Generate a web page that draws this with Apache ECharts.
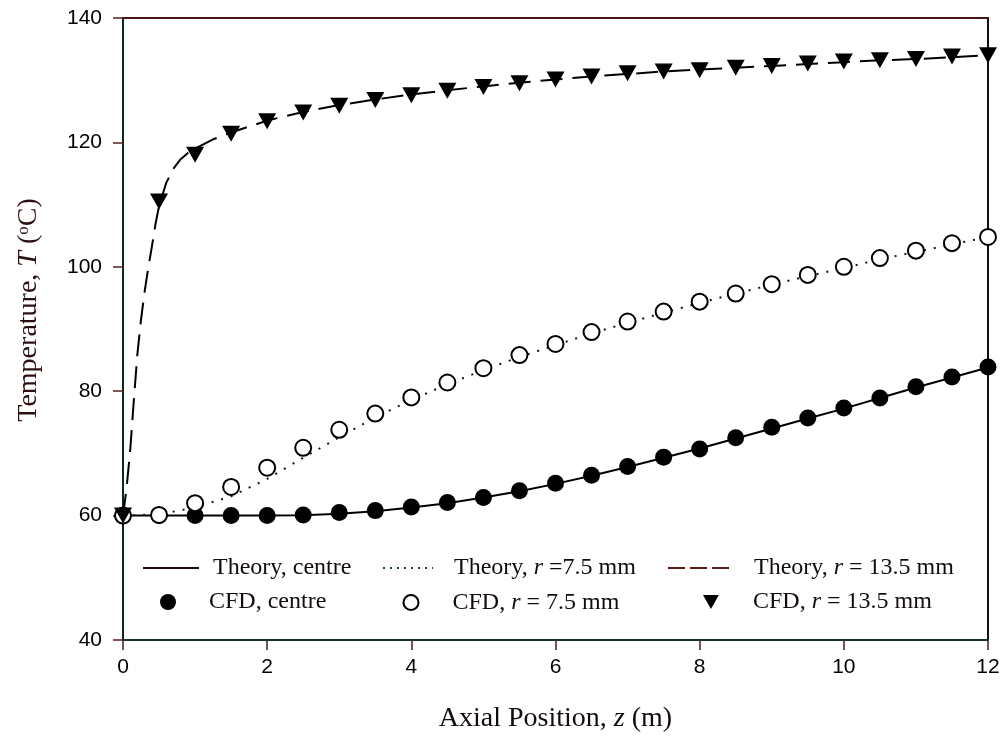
<!DOCTYPE html>
<html>
<head>
<meta charset="utf-8">
<script src="https://cdn.jsdelivr.net/npm/echarts@6/dist/echarts.min.js"></script>
<style>
html,body{margin:0;padding:0;background:#fff;}
#chart{width:1006px;height:744px;}
</style>
</head>
<body>
<div id="chart"></div>
<script>
// ---- data ----
const zCFD = [0, 0.5, 1, 1.5, 2, 2.5, 3, 3.5, 4, 4.5, 5, 5.5, 6, 6.5, 7, 7.5, 8, 8.5, 9, 9.5, 10, 10.5, 11, 11.5, 12];
const cfdCentre = [60.0, 60.0, 60.0, 60.0, 60.0, 60.1, 60.5, 60.8, 61.4, 62.1, 62.9, 64.0, 65.2, 66.5, 67.9, 69.4, 70.7, 72.5, 74.2, 75.7, 77.3, 78.9, 80.7, 82.3, 83.9];
const cfdR75 = [60.0, 60.1, 62.0, 64.6, 67.7, 70.9, 73.8, 76.4, 79.0, 81.4, 83.7, 85.8, 87.6, 89.5, 91.2, 92.8, 94.4, 95.7, 97.2, 98.7, 100.0, 101.4, 102.6, 103.8, 104.8];
const cfdR135 = [60.0, 110.5, 118.0, 121.4, 123.4, 124.8, 125.9, 126.8, 127.6, 128.3, 128.9, 129.5, 130.1, 130.6, 131.1, 131.4, 131.6, 132.0, 132.3, 132.7, 133.0, 133.2, 133.4, 133.8, 134.0];

const zTheory = [0, 0.5, 1, 1.5, 2, 2.5, 3, 3.5, 4, 4.5, 5, 5.5, 6, 6.5, 7, 7.5, 8, 8.5, 9, 9.5, 10, 10.5, 11, 11.5, 12];
const theoryCentre = [60.0, 60.0, 60.0, 60.0, 60.0, 60.05, 60.3, 60.7, 61.3, 62.0, 62.9, 63.9, 65.1, 66.4, 67.8, 69.3, 70.8, 72.4, 74.0, 75.6, 77.2, 78.9, 80.6, 82.2, 83.8];
const theoryR75 = [60.0, 60.2, 61.3, 63.1, 65.9, 69.3, 72.6, 75.8, 78.6, 81.1, 83.4, 85.5, 87.4, 89.3, 91.0, 92.6, 94.2, 95.7, 97.1, 98.5, 99.8, 101.2, 102.4, 103.6, 104.8];
const zTheory135 = [0, 0.05, 0.1, 0.15, 0.2, 0.25, 0.3, 0.35, 0.4, 0.45, 0.5, 0.6, 0.7, 0.8, 0.9, 1, 1.25, 1.5, 2, 2.5, 3, 3.5, 4, 4.5, 5, 5.5, 6, 6.5, 7, 7.5, 8, 8.5, 9, 9.5, 10, 10.5, 11, 11.5, 12];
const theoryR135 = [60.0, 64.5, 70.5, 78.5, 86.0, 91.5, 96.0, 99.8, 103.2, 106.8, 109.8, 113.5, 115.8, 117.3, 118.3, 119.0, 120.5, 121.6, 123.5, 124.9, 126.0, 126.9, 127.7, 128.4, 129.0, 129.6, 130.1, 130.6, 131.0, 131.4, 131.7, 132.0, 132.3, 132.6, 132.9, 133.2, 133.4, 133.7, 134.0];

const xTicks = [0, 2, 4, 6, 8, 10, 12];
const yTicks = [40, 60, 80, 100, 120, 140];

const seriesNames = ['Theory, centre', 'Theory, r =7.5 mm', 'Theory, r = 13.5 mm', 'CFD, centre', 'CFD, r = 7.5 mm', 'CFD, r = 13.5 mm'];
const legendRich = {
  'Theory, centre': '{n|Theory, centre}',
  'Theory, r =7.5 mm': '{n|Theory, }{i|r}{n| =7.5 mm}',
  'Theory, r = 13.5 mm': '{n|Theory, }{i|r}{n| = 13.5 mm}',
  'CFD, centre': '{n|CFD, centre}',
  'CFD, r = 7.5 mm': '{n|CFD, }{i|r}{n| = 7.5 mm}',
  'CFD, r = 13.5 mm': '{n|CFD, }{i|r}{n| = 13.5 mm}'
};

function pairs(xs, ys) { return xs.map((x, i) => [x, ys[i]]); }

const SERIF = '"Liberation Serif", "Times New Roman", serif';
const SANS = '"Liberation Sans", Arial, sans-serif';
const TRI = 'path://M0,0L20,0L10,17.6Z';

const chart = echarts.init(document.getElementById('chart'), null, {renderer: 'canvas'});

const richText = {
  n: {fontFamily: SERIF, fontSize: 24, color: '#140c0c'},
  i: {fontFamily: SERIF, fontSize: 24, fontStyle: 'italic', color: '#140c0c'}
};

function legendItem(name, left, top, w, h, pad, extra) {
  return Object.assign({
    data: [name],
    left: left, top: top,
    orient: 'horizontal',
    padding: 0,
    itemWidth: w, itemHeight: h,
    selectedMode: false,
    formatter: (nm) => legendRich[nm],
    textStyle: {fontFamily: SERIF, fontSize: 24, color: '#140c0c', padding: [0, 0, 0, pad], rich: richText}
  }, extra || {});
}

const hiddenSym = {opacity: 0, color: 'rgba(0,0,0,0)', borderWidth: 0};

const option = {
  animation: false,
  backgroundColor: '#ffffff',
  grid: {left: 123, right: 18, top: 18, bottom: 104, containLabel: false},
  xAxis: [{
    type: 'value', min: 0, max: 12, interval: 2,
    position: 'bottom',
    axisLine: {show: true, onZero: false, lineStyle: {color: '#183030', width: 2}},
    axisTick: {show: true, inside: false, length: 10, lineStyle: {color: '#3a2020', width: 1.5}},
    axisLabel: {margin: 17, fontFamily: SANS, fontSize: 21, color: '#000',
      formatter: (v) => xTicks.indexOf(v) >= 0 ? String(v) : ''},
    splitLine: {show: false},
    name: '{n|Axial Position, }{i|z}{n| (m)}',
    nameLocation: 'middle', nameGap: 65,
    nameTextStyle: {rich: {
      n: {fontFamily: SERIF, fontSize: 28, color: '#140c0c'},
      i: {fontFamily: SERIF, fontSize: 28, fontStyle: 'italic', color: '#140c0c'}
    }}
  }, {
    type: 'value', min: 0, max: 12, interval: 2, position: 'top',
    axisLine: {show: true, onZero: false, lineStyle: {color: '#4a1414', width: 2}},
    axisTick: {show: false}, axisLabel: {show: false}, splitLine: {show: false}
  }],
  yAxis: [{
    type: 'value', min: 40, max: 140, interval: 20,
    position: 'left',
    axisLine: {show: true, onZero: false, lineStyle: {color: '#0c2a1c', width: 2}},
    axisTick: {show: true, inside: false, length: 10, lineStyle: {color: '#5a2020', width: 1.5}},
    axisLabel: {margin: 21, fontFamily: SANS, fontSize: 21, color: '#000',
      formatter: (v) => yTicks.indexOf(v) >= 0 ? String(v) : ''},
    splitLine: {show: false},
    name: '{n|Temperature, }{i|T}{n| (}{s|o}{n|C)}',
    nameLocation: 'middle', nameGap: 80,
    nameTextStyle: {padding: [0, 0, 0, 38], rich: {
      n: {fontFamily: SERIF, fontSize: 28, color: '#2a1010'},
      i: {fontFamily: SERIF, fontSize: 28, fontStyle: 'italic', color: '#2a1010'},
      s: {fontFamily: SERIF, fontSize: 17, color: '#2a1010', verticalAlign: 'top', padding: [0, 0, 10, 0]}
    }}
  }, {
    type: 'value', min: 40, max: 140, interval: 20, position: 'right',
    axisLine: {show: true, onZero: false, lineStyle: {color: '#111', width: 2}},
    axisTick: {show: false}, axisLabel: {show: false}, splitLine: {show: false}
  }],
  legend: [
    legendItem(seriesNames[0], 142, 556, 56, 14, 9, {itemStyle: hiddenSym, lineStyle: {color: '#1a0808', width: 2}}),
    legendItem(seriesNames[1], 382, 556, 50, 14, 16, {itemStyle: hiddenSym, lineStyle: {color: '#1c4a28', type: [2, 5], width: 2}}),
    legendItem(seriesNames[2], 667, 556, 61, 14, 20, {itemStyle: hiddenSym, lineStyle: {color: '#5a1a1a', type: [17, 5], width: 2}}),
    legendItem(seriesNames[3], 160, 590, 16, 16, 28),
    legendItem(seriesNames[4], 402.5, 590.5, 15, 15, 29),
    legendItem(seriesNames[5], 703, 590, 16, 14, 29)
  ],
  series: [
    {name: seriesNames[0], type: 'line', data: pairs(zTheory, theoryCentre), symbol: 'none', showSymbol: false,
      lineStyle: {color: '#000', width: 2, type: 'solid'}, itemStyle: {color: '#000'}, z: 2},
    {name: seriesNames[1], type: 'line', data: pairs(zTheory, theoryR75), symbol: 'none', showSymbol: false,
      lineStyle: {color: '#0c1a0c', width: 2, type: [2, 8]}, itemStyle: {color: '#0c1a0c'}, z: 2},
    {name: seriesNames[2], type: 'line', data: pairs(zTheory135, theoryR135), symbol: 'none', showSymbol: false,
      lineStyle: {color: '#000', width: 2, type: [22, 10]}, itemStyle: {color: '#000'}, z: 2},
    {name: seriesNames[3], type: 'scatter', data: pairs(zCFD, cfdCentre), symbol: 'circle', symbolSize: 17, clip: false,
      itemStyle: {color: '#000', opacity: 1}, z: 3},
    {name: seriesNames[4], type: 'scatter', data: pairs(zCFD, cfdR75), symbol: 'circle', symbolSize: 16, clip: false,
      itemStyle: {color: '#fff', borderColor: '#000', borderWidth: 2, opacity: 1}, z: 4},
    {name: seriesNames[5], type: 'scatter', data: pairs(zCFD, cfdR135), symbol: TRI, symbolSize: [18, 16], clip: false,
      itemStyle: {color: '#000', opacity: 1}, z: 5}
  ]
};
chart.setOption(option);
</script>
</body>
</html>
